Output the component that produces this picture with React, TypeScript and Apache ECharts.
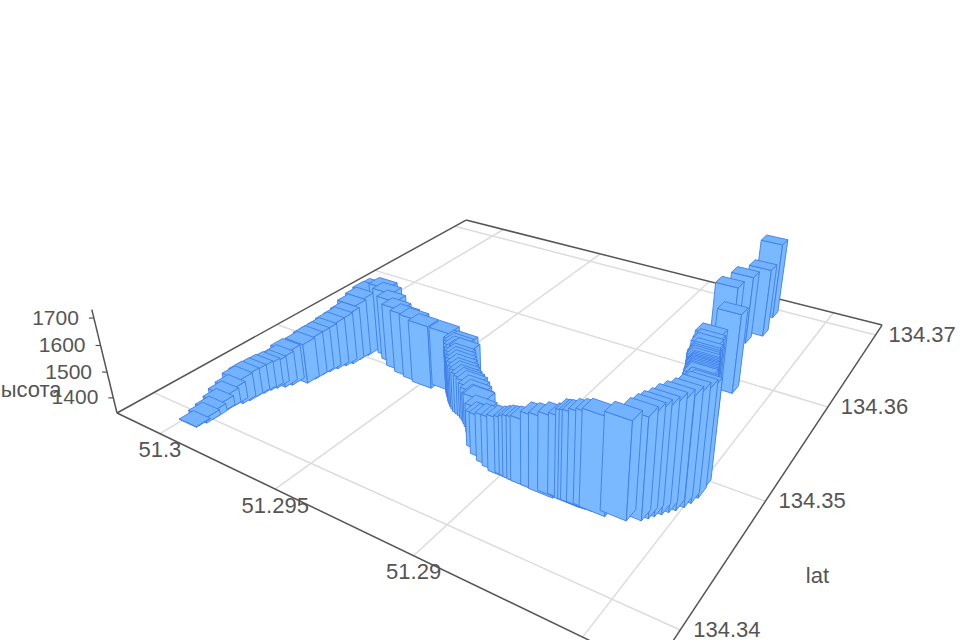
import React, { useEffect, useRef } from "react";
import * as echarts from "echarts";

const LNG = [51.29972,51.29963,51.29963,51.29968,51.29965,51.29964,51.29951,51.29945,51.29944,51.29939,51.29933,51.29925,51.29907,51.29896,51.29862,51.29858,51.29856,51.2985,51.2984,51.2983,51.29819,51.29817,51.29812,51.29814,51.29811,51.29761,51.29717,51.29679,51.29634,51.29585,51.29539,51.29494,51.29426,51.29365,51.29354,51.29337,51.2932,51.29298,51.29273,51.29246,51.29219,51.29192,51.29169,51.29127,51.29094,51.29059,51.29031,51.29003,51.28981,51.28951,51.28922,51.28888,51.2886,51.28834,51.28803,51.28778,51.28759,51.28741,51.28721,51.28701,51.28644,51.2861,51.28598,51.28588,51.28575,51.28563,51.2855,51.28537,51.28528,51.28521,51.28524,51.28548,51.28564,51.28574,51.28579,51.28587,51.28593,51.28602,51.28608,51.28615,51.28624,51.2863,51.28636,51.28646,51.28739,51.28732,51.28699,51.28718,
  51.2936,51.29345,51.29328,51.2931,51.29286,51.2926,51.29232,51.29205,51.2935,51.2933,51.28555,51.28569,51.28576,51.28583,51.2859,51.28597,51.28605,51.28552,51.28562,51.28572,51.28965,51.28936,51.28768];
const LAT = [134.33945,134.34004,134.34054,134.34121,134.34162,134.34214,134.34255,134.343,134.34354,
  134.344,134.34446,134.34482,134.34517,134.34556,134.34622,134.34683,134.34741,134.34792,
  134.34845,134.349,134.34942,134.35003,134.3507,134.35142,134.35194,134.35188,134.35133,
  134.3509,134.3504,134.35011,134.34995,134.34979,134.35017,134.35008,134.34982,134.34951,
  134.34919,134.34883,134.34851,134.34833,134.34804,134.34765,134.34724,134.34627,134.34579,
  134.34546,134.34527,134.34508,134.34515,134.34508,134.34503,134.34503,134.34498,134.3451,
  134.34516,134.34507,134.34511,134.34514,134.34519,134.34515,134.34544,134.34584,134.34616,
  134.34646,134.34678,134.34712,134.34744,134.34787,134.34835,134.34891,134.34964,134.35036,
  134.35099,134.35151,134.35186,134.3522,134.35256,134.35291,134.35329,134.35386,134.35435,
  134.35486,134.35538,134.3589,134.36269,134.36495,134.36643,134.36921,134.34996,134.34966,
  134.34935,134.34901,134.34867,134.34842,134.34819,134.34784,134.35011,134.34979,134.35067,
  134.35124,134.35168,134.35203,134.35238,134.35274,134.3531,134.35053,134.35084,134.35126,
  134.34512,134.34505,134.3451];
const ALT = [1342,1360,1368,1376,1395,1405,1432,1440,1438,1440,1440,1440,1456,1474,1495,1503,1504,1509,1521,1530,1543,1560,1573,1579,1579,1598,1604,1594,1588,1586,1588,1583,1567,1550,1538,1525,1513,1501,1492,1484,1468,1467,1451,1472,1493,1517,1527,1544,1547,1564,1573,1600,1609,1618,1624,1650,1653,1662,1668,1677,1679,1691,1698,1702,1706,1713,1717,1718,1719,1714,1697,1660,1669,1661,1659,1656,1654,1659,1660,1655,1657,1655,1660,1644,1623,1611,1614,1650,
  1545,1531,1519,1507,1497,1488,1476,1460,1552,1540,1664,1665,1660,1657,1655,1657,1659,1650,1655,1650,1556,1568,1651];

const LNG_TICKS = [51.3, 51.295, 51.29, 51.285];
const LNG_LABELS = ["51.3", "51.295", "51.29"];
const LAT_TICKS = [134.34, 134.35, 134.36, 134.37];
const ALT_TICKS = [1400, 1500, 1600, 1700];
const AXIS_NAMES = ["высота", "lat"];

const LNG_MAX = 51.3021, LNG_MIN = 51.2832;
const LAT_MIN = 134.33743, LAT_MAX = 134.37159;
const ALT_MIN = 1340, ALT_MAX = 1730;
const BAR_HALF_LNG = 0.0004, BAR_HALF_LAT = 0.0005;

// camera: floor homography plus the vertical vanishing point
const H = { a: 337.6, b: 561.4, c: 117, d: 54.1, e: -92.7, f: 413, g: -0.3039, h: 0.4557 };
const V = { x: 528, y: 2100, k: -0.000148 };
function project(lng: number, lat: number, alt: number): [number, number] {
  const s = (LNG_MAX - lng) / (LNG_MAX - LNG_MIN);
  const t = (lat - LAT_MIN) / (LAT_MAX - LAT_MIN);
  const q = V.k * (alt - ALT_MIN);
  const w = H.g * s + H.h * t + 1 + q;
  return [(H.a * s + H.b * t + H.c + q * V.x) / w, (H.d * s + H.e * t + H.f + q * V.y) / w];
}
function area(p: number[][]) {
  let r = 0;
  for (let i = 0; i < p.length; i++) {
    const n = p[(i + 1) % p.length];
    r += p[i][0] * n[1] - n[0] * p[i][1];
  }
  return r;
}

const FACE = "#7ab8ff", TOP = "#72b2ff", EDGE = "#3f7ee6", AXIS = "#555", GRID = "#dcdcdc", TEXT = "#555";
const FONT = "Liberation Sans";

const barRows = LNG.map((v, i) => [v, LAT[i], ALT[i]]).sort((p, q) => project(p[0], p[1], ALT_MIN)[1] - project(q[0], q[1], ALT_MIN)[1]);

function renderBar(_: any, api: any) {
  const lng = api.value(0), lat = api.value(1), alt = api.value(2);
  const corners = [[lng + BAR_HALF_LNG, lat - BAR_HALF_LAT], [lng - BAR_HALF_LNG, lat - BAR_HALF_LAT], [lng - BAR_HALF_LNG, lat + BAR_HALF_LAT], [lng + BAR_HALF_LNG, lat + BAR_HALF_LAT]];
  const bottom = corners.map((c) => project(c[0], c[1], ALT_MIN));
  const top = corners.map((c) => project(c[0], c[1], alt));
  const sign = Math.sign(area(top));
  const children: any[] = [];
  for (let i = 0; i < 4; i++) {
    const j = (i + 1) % 4;
    const pts = [bottom[i], bottom[j], top[j], top[i]];
    if (Math.sign(area(pts)) === sign) {
      children.push({ type: "polygon", shape: { points: pts }, style: { fill: FACE, stroke: EDGE, lineWidth: 0.9 } });
    }
  }
  children.push({ type: "polygon", shape: { points: top }, style: { fill: TOP, stroke: EDGE, lineWidth: 0.9 } });
  return { type: "group", children };
}

function line(a: number[], b: number[], stroke: string, lineWidth: number) {
  return { type: "line", shape: { x1: a[0], y1: a[1], x2: b[0], y2: b[1] }, style: { stroke, lineWidth } };
}
function label(text: string, x: number, y: number, align: string, fontSize = 22) {
  return { type: "text", x, y, style: { text, fill: TEXT, fontSize, fontFamily: FONT, align, verticalAlign: "middle" } };
}

function renderFloor() {
  const children: any[] = [];
  LNG_TICKS.forEach((v) => children.push(line(project(v, LAT_MIN, ALT_MIN), project(v, LAT_MAX, ALT_MIN), GRID, 1.5)));
  LAT_TICKS.forEach((v) => children.push(line(project(LNG_MAX, v, ALT_MIN), project(LNG_MIN, v, ALT_MIN), GRID, 1.5)));
  const box = [[LNG_MAX, LAT_MIN], [LNG_MIN, LAT_MIN], [LNG_MIN, LAT_MAX], [LNG_MAX, LAT_MAX]];
  box.forEach((c, i) => {
    const n = box[(i + 1) % 4];
    children.push(line(project(c[0], c[1], ALT_MIN), project(n[0], n[1], ALT_MIN), AXIS, 1.5));
  });
  children.push(line(project(LNG_MAX, LAT_MIN, ALT_MIN), project(LNG_MAX, LAT_MIN, ALT_MAX), AXIS, 1.5));
  ALT_TICKS.forEach((v) => {
    const p = project(LNG_MAX, LAT_MIN, v);
    children.push(line(p, [p[0] - 5, p[1]], AXIS, 1.2));
    children.push(label(String(v), p[0] - 15, p[1] - 1, "right", 21));
  });
  LNG_LABELS.forEach((v) => {
    const p = project(Number(v), LAT_MIN, ALT_MIN);
    children.push(label(v, p[0], p[1] + 16, "center"));
  });
  LAT_TICKS.forEach((v) => {
    const p = project(LNG_MIN, v, ALT_MIN);
    children.push(label(v.toFixed(2), p[0] + 13, p[1] - 0.5, "left"));
  });
  const a = project(LNG_MAX, LAT_MIN, 1400);
  children.push(label(AXIS_NAMES[0], a[0] - 88, a[1] - 8, "center"));
  const b = project(LNG_MIN, 134.35, ALT_MIN);
  children.push(label(AXIS_NAMES[1], b[0] + 52, b[1] + 74, "center"));
  return { type: "group", children };
}

export default function App() {
  const ref = useRef<HTMLDivElement>(null);
  useEffect(() => {
    const chart = echarts.init(ref.current!, undefined, { renderer: "svg" });
    chart.setOption({
      animation: false,
      backgroundColor: "#fff",
      series: [
        { type: "custom", coordinateSystem: "none", silent: true, z: 1, data: [0], renderItem: renderFloor },
        { type: "custom", coordinateSystem: "none", silent: true, z: 2, data: barRows, renderItem: renderBar },
      ],
    });
    return () => chart.dispose();
  }, []);
  return <div ref={ref} style={{ position: "fixed", left: 0, top: 0, width: 960, height: 640 }} />;
}
